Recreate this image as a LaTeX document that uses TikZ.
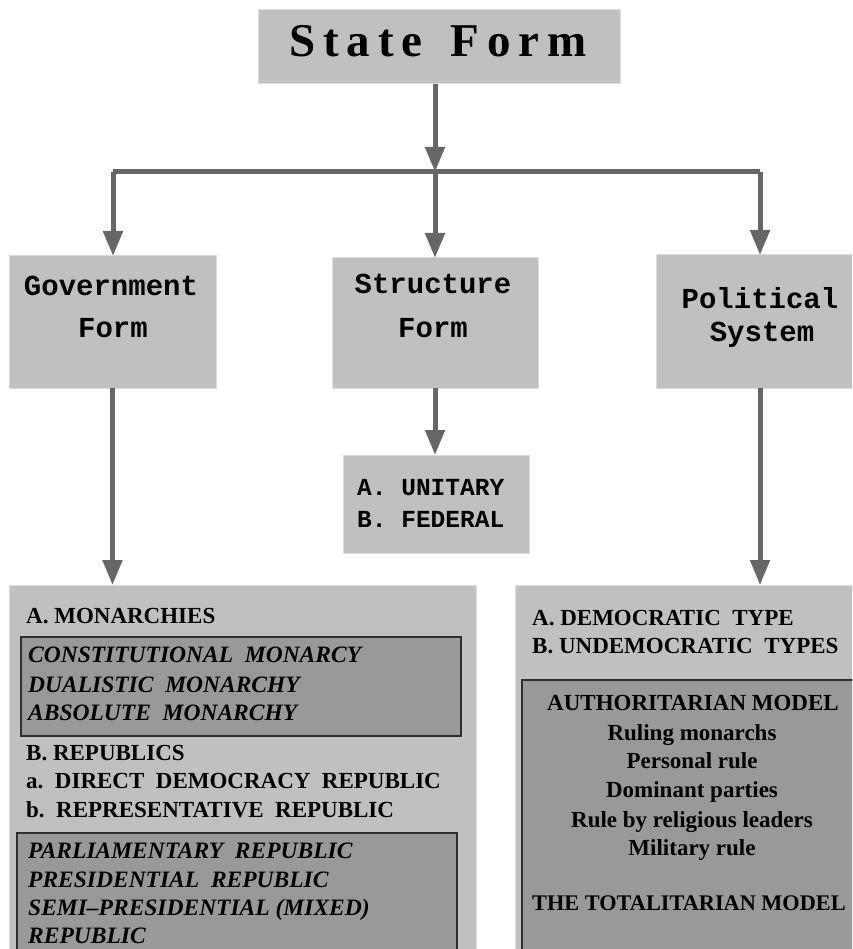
\documentclass[tikz,border=0pt]{standalone}
\usepackage{fontspec}
\setmainfont{Liberation Serif}
\newfontfamily\monof{Liberation Mono}
\newfontfamily\titlef[LetterSpace=17]{Liberation Serif}
\usetikzlibrary{arrows.meta}
\definecolor{boxgray}{HTML}{C0C0C0}
\definecolor{innergray}{HTML}{999999}
\definecolor{arrowgray}{HTML}{666666}
\definecolor{edgegray}{HTML}{DCDCDC}
\definecolor{inneredge}{HTML}{2E2E2E}
\tikzset{
  lightbox/.style={draw=edgegray, line width=1pt, fill=boxgray, inner sep=0pt, outer sep=0pt, anchor=north west},
  darkbox/.style={draw=inneredge, line width=1.3pt, fill=innergray, inner sep=0pt, outer sep=0pt, anchor=north west},
  conn/.style={draw=arrowgray, line width=5pt, -{Triangle[length=25pt,width=19pt]}},
  barline/.style={draw=arrowgray, line width=5pt},
  monolbl/.style={inner sep=0pt, anchor=base, font=\monof\bfseries\fontsize{29}{29}\selectfont},
  monosmall/.style={inner sep=0pt, anchor=base west, font=\monof\bfseries\fontsize{24.5}{24.5}\selectfont},
  serifl/.style={inner sep=0pt, anchor=base west, font=\bfseries\fontsize{23}{23}\selectfont},
  serifi/.style={inner sep=0pt, anchor=base west, font=\bfseries\itshape\fontsize{23.5}{23.5}\selectfont},
  serifc/.style={inner sep=0pt, anchor=base, font=\bfseries\fontsize{23}{23}\selectfont},
}
\begin{document}
\begin{tikzpicture}[x=1pt,y=-1pt]
\clip (0,0) rectangle (852,949);
\fill[white] (0,0) rectangle (852,949);
% boxes
\node[lightbox, minimum width=362pt, minimum height=74pt] (state) at (258,10) {};
\node[lightbox, minimum width=207pt, minimum height=132pt] (gov) at (9,256) {};
\node[lightbox, minimum width=206pt, minimum height=130pt] (struct) at (332,258) {};
\node[lightbox, minimum width=208pt, minimum height=133pt] (pol) at (656,255) {};
\node[lightbox, minimum width=186pt, minimum height=98pt] (unit) at (343,455) {};
\node[lightbox, minimum width=467pt, minimum height=420pt] (leftbig) at (9,585) {};
\node[lightbox, minimum width=400pt, minimum height=420pt] (rightbig) at (515,585) {};
\node[darkbox, minimum width=440pt, minimum height=99pt] (inner1) at (21,637) {};
\node[darkbox, minimum width=440pt, minimum height=200pt] (inner2) at (17,833) {};
\node[darkbox, minimum width=400pt, minimum height=400pt] (inner3) at (522,680) {};
% connectors
\coordinate (jm) at (435,172);
\coordinate (jl) at (113,172);
\coordinate (jr) at (760,172);
\draw[barline] (jl) -- (jr);
\draw[conn] (state.south -| jm) -- (jm);
\draw[conn] (jl) -- (jl |- gov.north);
\draw[conn] (jm) -- (jm |- struct.north);
\draw[conn] (jr) -- (jr |- pol.north);
\draw[conn] (gov.south) -- (gov.south |- leftbig.north);
\draw[conn] (struct.south) -- (struct.south |- unit.north);
\draw[conn] (pol.south -| jr) -- (jr |- rightbig.north);
% texts
\node[inner sep=0pt, anchor=base, font=\titlef\bfseries\fontsize{47}{47}\selectfont] (ttl) at (438,57) {State\hspace{28pt}Form};
\node[monolbl] (g1) at (111,295) {Government};
\node[monolbl] (g2) at (113,337) {Form};
\node[monolbl] (s1) at (433,293) {Structure};
\node[monolbl] (s2) at (433,337) {Form};
\node[monolbl] (p1) at (760,308) {Political};
\node[monolbl] (p2) at (762,341) {System};
\node[monosmall] (u1) at (357,495) {A. UNITARY};
\node[monosmall] (u2) at (357,527) {B. FEDERAL};
\node[serifl] (l1) at (26,623) {A. MONARCHIES};
\node[serifi] (l2) at (28,662) {CONSTITUTIONAL\ \ MONARCY};
\node[serifi] (l3) at (28,692) {DUALISTIC\ \ MONARCHY};
\node[serifi] (l4) at (28,720) {ABSOLUTE\ \ MONARCHY};
\node[serifl] (l5) at (26,760) {B. REPUBLICS};
\node[serifl] (l6) at (26,788) {a.\ \ DIRECT\ \ DEMOCRACY\ \ REPUBLIC};
\node[serifl] (l7) at (26,817) {b.\ \ REPRESENTATIVE\ \ REPUBLIC};
\node[serifi] (l8) at (28,858) {PARLIAMENTARY\ \ REPUBLIC};
\node[serifi] (l9) at (28,887) {PRESIDENTIAL\ \ REPUBLIC};
\node[serifi] (l10) at (28,915) {SEMI--PRESIDENTIAL (MIXED)};
\node[serifi] (l11) at (28,943) {REPUBLIC};
\node[serifl] (r1) at (532,625) {A. DEMOCRATIC\ \ TYPE};
\node[serifl] (r2) at (532,653) {B. UNDEMOCRATIC\ \ TYPES};
\node[serifc] (r3) at (693,710) {AUTHORITARIAN MODEL};
\node[serifc] (r4) at (692,740) {Ruling monarchs};
\node[serifc] (r5) at (692,768) {Personal rule};
\node[serifc] (r6) at (692,797) {Dominant parties};
\node[serifc] (r7) at (692,827) {Rule by religious leaders};
\node[serifc] (r8) at (692,855) {Military rule};
\node[serifl, font=\bfseries\fontsize{22.3}{22.3}\selectfont] (r9) at (532,910) {THE TOTALITARIAN MODEL};
\end{tikzpicture}
\end{document}
